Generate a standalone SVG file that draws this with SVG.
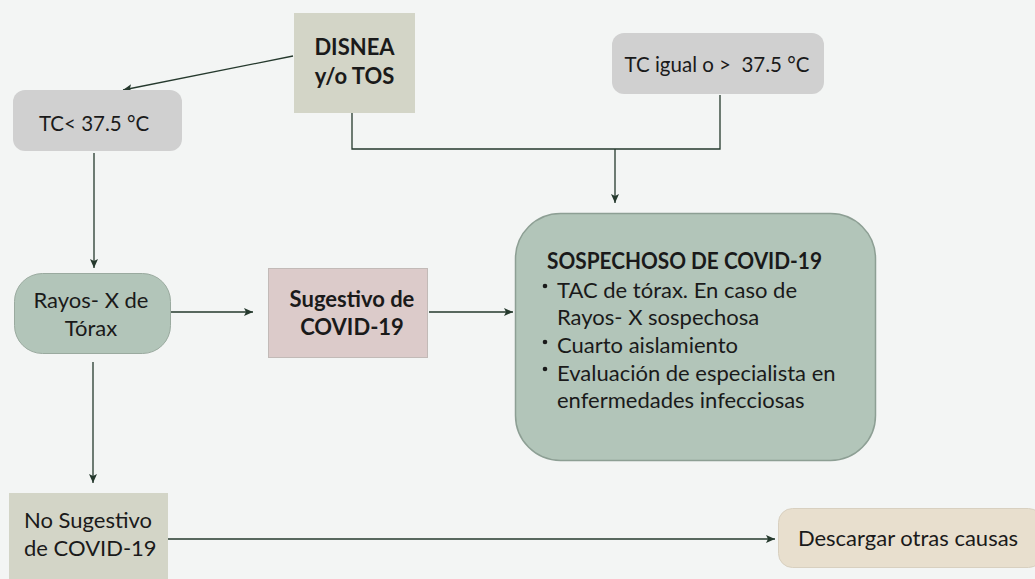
<svg xmlns="http://www.w3.org/2000/svg" width="1035" height="579" viewBox="0 0 1035 579">
<defs>
<marker id="ah" markerWidth="10" markerHeight="10" refX="9" refY="5" orient="auto" markerUnits="userSpaceOnUse">
<path d="M0,1 L9,5 L0,9 L2,5 Z" fill="#25392d"/>
</marker>
</defs>
<style>
text{font-family:Lato,"Noto Sans",sans-serif;font-size:22px;fill:#1a1a1a}
.b{font-weight:bold}
.c{text-anchor:middle}
.t{font-size:20.5px}
.ln{fill:none;stroke:#25392d;stroke-width:1.3}
.dot{fill:#1a1a1a}
</style>
<rect x="0" y="0" width="1035" height="579" fill="#f3f5f4"/>
<g id="connectors">
<line class="ln" x1="293" y1="56" x2="123" y2="90" marker-end="url(#ah)"/>
<polyline class="ln" points="352,110 352,149 720,149 720,95" stroke="#1a1a1a"/>
<line class="ln" x1="615" y1="149" x2="615" y2="203" marker-end="url(#ah)"/>
<line class="ln" x1="94" y1="153" x2="94" y2="268" marker-end="url(#ah)"/>
<line class="ln" x1="170" y1="312" x2="253" y2="312" marker-end="url(#ah)"/>
<line class="ln" x1="429" y1="312" x2="513" y2="312" marker-end="url(#ah)"/>
<line class="ln" x1="93" y1="362" x2="93" y2="483" marker-end="url(#ah)"/>
<line class="ln" x1="168" y1="539" x2="775" y2="539" marker-end="url(#ah)"/>
</g>
<g id="disnea">
<rect x="294" y="13" width="121" height="100" fill="#d3d5c7"/>
<text class="b c" x="354.5" y="55" font-size="20.7">DISNEA</text>
<text class="b c" x="354.5" y="84" font-size="20.7">y/o TOS</text>
</g>
<g id="tc-menor">
<rect x="13" y="90" width="169" height="61" rx="12" fill="#d0d0d0"/>
<text class="c t" x="94" y="131">TC&lt; 37.5 °C</text>
</g>
<g id="tc-mayor">
<rect x="612" y="33" width="212" height="61" rx="12" fill="#d0d0d0"/>
<text class="c t" x="717" y="72" xml:space="preserve">TC igual o &gt;  37.5 °C</text>
</g>
<g id="rayos">
<rect x="14.5" y="273.5" width="156" height="80" rx="28" fill="#b2c5b9" stroke="#9aaa9f"/>
<text class="c" x="91" y="308" font-size="21.3">Rayos- X de</text>
<text class="c" x="91" y="336" font-size="21.3">Tórax</text>
</g>
<g id="sugestivo">
<rect x="268.5" y="268.5" width="159" height="89" fill="#dccbca" stroke="#c2bab7"/>
<text class="b c" x="352" y="307" font-size="22.5">Sugestivo de</text>
<text class="b c" x="352" y="335" font-size="22.5">COVID-19</text>
</g>
<g id="sospechoso">
<rect x="515.5" y="213.5" width="360" height="247" rx="45" fill="#b2c5b9" stroke="#8d9f94" stroke-width="1.5"/>
<text class="b" x="547" y="269" font-size="20" textLength="275" lengthAdjust="spacingAndGlyphs">SOSPECHOSO DE COVID-19</text>
<circle class="dot" cx="545" cy="286" r="2.3"/>
<text x="557" y="298">TAC de tórax. En caso de</text>
<text x="557" y="325">Rayos- X sospechosa</text>
<circle class="dot" cx="545" cy="342" r="2.3"/>
<text x="557" y="353">Cuarto aislamiento</text>
<circle class="dot" cx="545" cy="369" r="2.3"/>
<text x="557" y="381">Evaluación de especialista en</text>
<text x="557" y="408">enfermedades infecciosas</text>
</g>
<g id="no-sugestivo">
<rect x="9" y="493" width="159" height="86" fill="#d3d5c7"/>
<text x="24" y="528">No Sugestivo</text>
<text x="24" y="556">de COVID-19</text>
</g>
<g id="descargar">
<rect x="778.5" y="508.5" width="264" height="59" rx="14" fill="#e8dfce" stroke="#d8d0c0"/>
<text class="c" x="908" y="546">Descargar otras causas</text>
</g>
</svg>
